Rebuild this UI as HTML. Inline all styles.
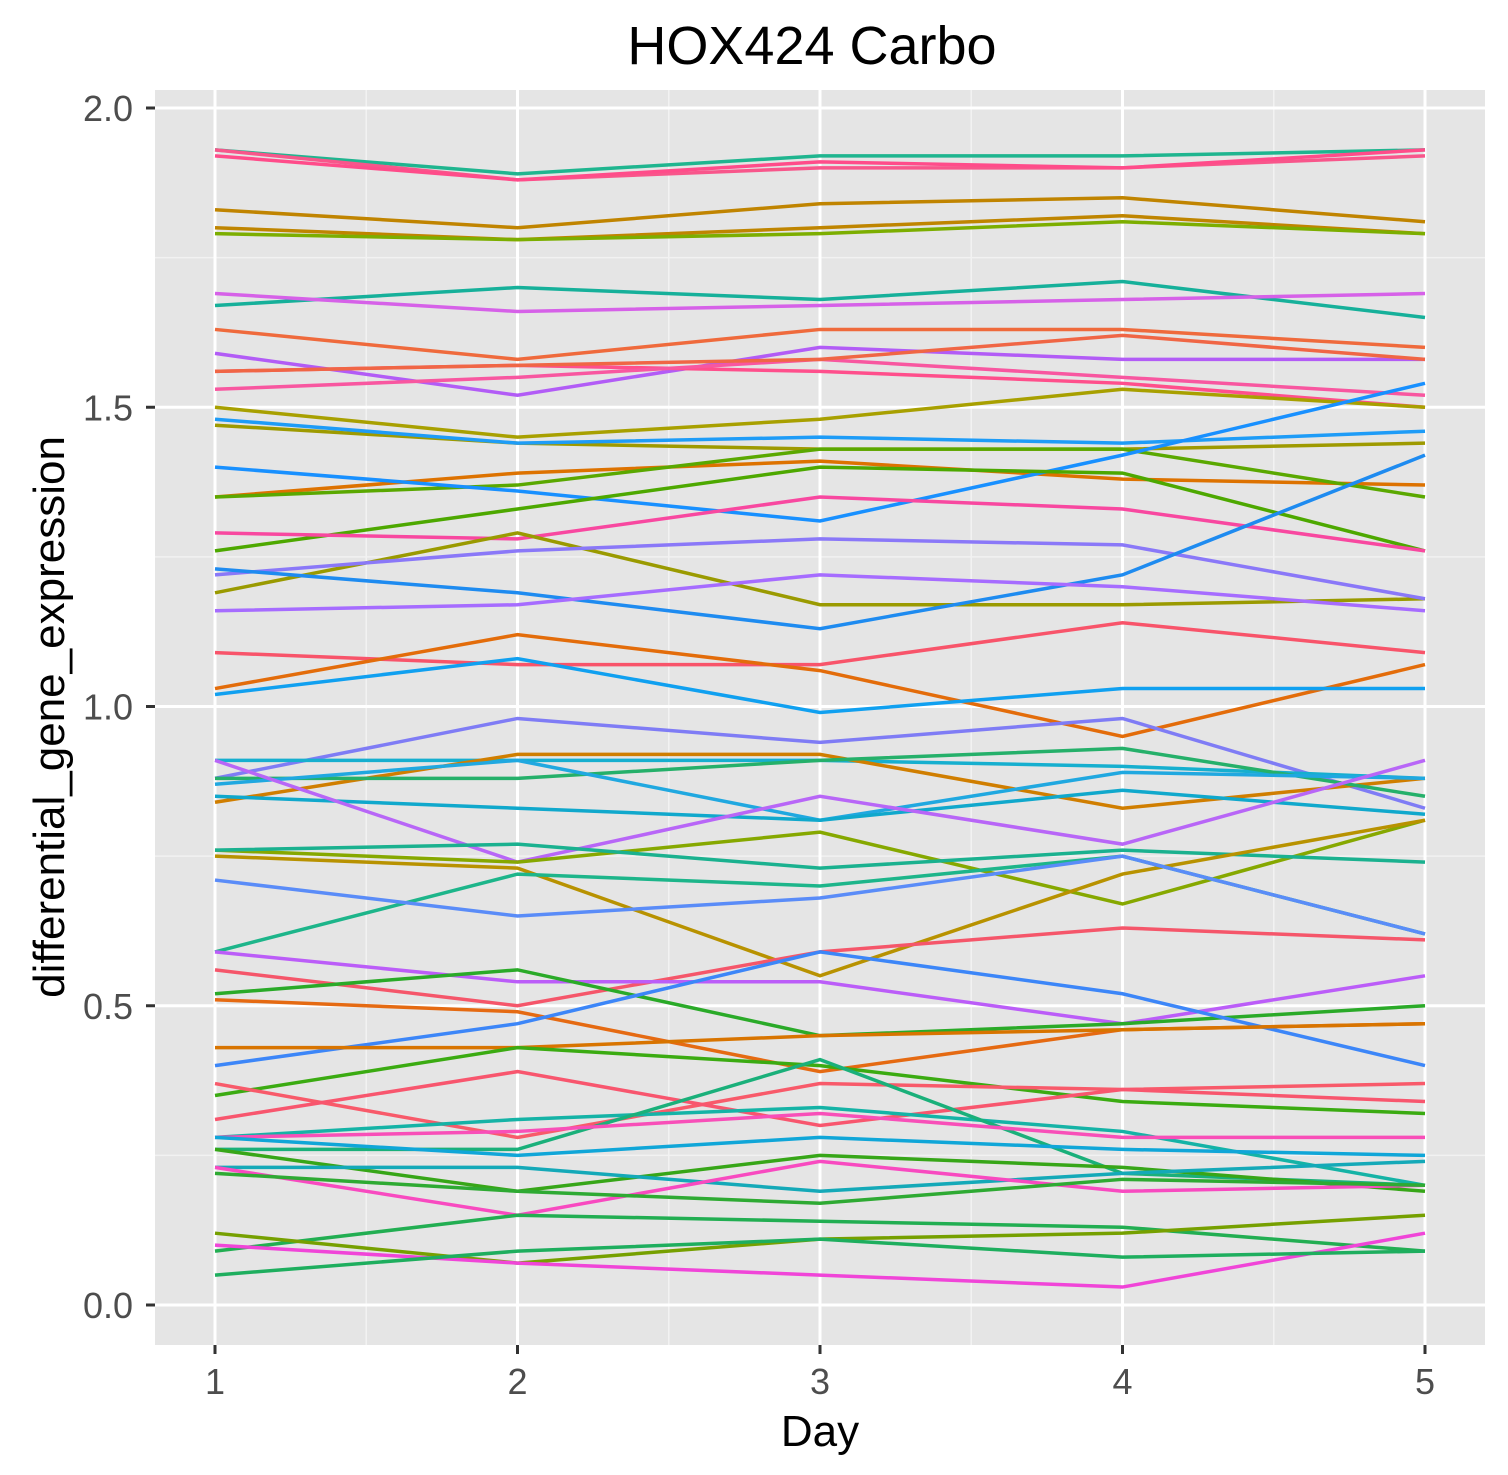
<!DOCTYPE html>
<html><head><meta charset="utf-8"><style>
html,body{margin:0;padding:0;background:#fff;}
svg{display:block;font-family:"Liberation Sans",Arial,sans-serif;}
</style></head><body>
<svg id="chart" width="1508" height="1475">
<rect x="155" y="90" width="1330" height="1255" fill="#E5E5E5"/>
<g id="grid"></g>
<g id="lines"></g>
<g id="axes"></g>
<text x="812" y="64" font-size="54" text-anchor="middle" fill="#000">HOX424 Carbo</text>
<text x="820" y="1446" font-size="44" text-anchor="middle" fill="#000">Day</text>
<text transform="translate(64,717) rotate(-90)" font-size="44" text-anchor="middle" fill="#000">differential_gene_expression</text>
</svg>
<script>
const days=[1,2,3,4,5];
const yTicks=[0,0.5,1,1.5,2];
const yTickLabels=["0.0","0.5","1.0","1.5","2.0"];
const series=[
[1.93,1.89,1.92,1.92,1.93],[1.93,1.88,1.90,1.90,1.92],[1.92,1.88,1.91,1.90,1.93],
[1.83,1.80,1.84,1.85,1.81],[1.80,1.78,1.80,1.82,1.79],[1.79,1.78,1.79,1.81,1.79],
[1.67,1.70,1.68,1.71,1.65],[1.69,1.66,1.67,1.68,1.69],[1.63,1.58,1.63,1.63,1.60],
[1.59,1.52,1.60,1.58,1.58],[1.56,1.57,1.56,1.54,1.50],[1.53,1.55,1.58,1.55,1.52],
[1.56,1.57,1.58,1.62,1.58],[1.50,1.45,1.48,1.53,1.50],[1.47,1.44,1.43,1.43,1.44],
[1.48,1.44,1.45,1.44,1.46],[1.35,1.39,1.41,1.38,1.37],[1.35,1.37,1.43,1.43,1.35],
[1.40,1.36,1.31,1.42,1.54],[1.26,1.33,1.40,1.39,1.26],[1.29,1.28,1.35,1.33,1.26],
[1.19,1.29,1.17,1.17,1.18],[1.22,1.26,1.28,1.27,1.18],[1.23,1.19,1.13,1.22,1.42],
[1.16,1.17,1.22,1.20,1.16],[1.09,1.07,1.07,1.14,1.09],[1.03,1.12,1.06,0.95,1.07],
[1.02,1.08,0.99,1.03,1.03],[0.88,0.98,0.94,0.98,0.83],[0.91,0.91,0.91,0.90,0.88],
[0.84,0.92,0.92,0.83,0.88],[0.88,0.88,0.91,0.93,0.85],[0.87,0.91,0.81,0.89,0.88],
[0.85,0.83,0.81,0.86,0.82],[0.91,0.74,0.85,0.77,0.91],[0.76,0.74,0.79,0.67,0.81],
[0.76,0.77,0.73,0.76,0.74],[0.75,0.73,0.55,0.72,0.81],[0.59,0.72,0.70,0.75,0.62],
[0.71,0.65,0.68,0.75,0.62],[0.56,0.50,0.59,0.63,0.61],[0.59,0.54,0.54,0.47,0.55],
[0.51,0.49,0.39,0.46,0.47],[0.52,0.56,0.45,0.47,0.50],[0.40,0.47,0.59,0.52,0.40],
[0.43,0.43,0.45,0.46,0.47],[0.35,0.43,0.40,0.34,0.32],[0.37,0.28,0.37,0.36,0.37],
[0.31,0.39,0.30,0.36,0.34],[0.28,0.31,0.33,0.29,0.20],[0.26,0.26,0.41,0.22,0.20],
[0.28,0.29,0.32,0.28,0.28],[0.28,0.25,0.28,0.26,0.25],[0.26,0.19,0.25,0.23,0.19],
[0.23,0.23,0.19,0.22,0.24],[0.23,0.15,0.24,0.19,0.20],[0.22,0.19,0.17,0.21,0.20],
[0.09,0.15,0.14,0.13,0.09],[0.12,0.07,0.11,0.12,0.15],[0.10,0.07,0.05,0.03,0.12],
[0.05,0.09,0.11,0.08,0.09]
];
const colors=["#1FB58F","#F8568B","#FF4C8A","#C08400","#BF8500","#7CAE00","#16B09A","#D661E8","#EF6A3C",
"#B25CF6","#FF4F8C","#F857A0","#F06645","#A8A000","#9E9A00","#1E9CF7","#DD7200","#5AA800","#1890FF",
"#4DA800","#F848A0","#9A9A00","#8A78F8","#1E8BF0","#A66CFF","#F8546A","#E36C0A","#10A0F0","#7F7CF5",
"#16AFCF","#D07E00","#25B06A","#20A8E0","#10A8CC","#B866F7","#86A800","#1AB18F","#B89200","#1DB58A",
"#5A8CF8","#F5566A","#BB5DF8","#E56A12","#2AAA28","#3C86F8","#D87400","#3BAB12","#F85A6A","#F8566E",
"#15B3A6","#1AB07A","#F84FB8","#10A6D8","#37A618","#14A9B8","#F84AC0","#2EAA33","#22AE52","#76A000",
"#F045D8","#1EAE5E"];
const NS="http://www.w3.org/2000/svg";
function xS(d){return 215+(d-1)*302.5;}
function yS(v){return 1305-v*598.5;}
const grid=document.getElementById('grid'),lines=document.getElementById('lines'),axes=document.getElementById('axes');
function ln(p,x1,y1,x2,y2,c,w){const l=document.createElementNS(NS,'line');l.setAttribute('x1',x1);l.setAttribute('y1',y1);l.setAttribute('x2',x2);l.setAttribute('y2',y2);l.setAttribute('stroke',c);l.setAttribute('stroke-width',w);p.appendChild(l);return l;}
for(let v=0.25;v<2;v+=0.5){const l=ln(grid,155,yS(v),1485,yS(v),'#F2F2F2',1.5);

}
for(let d=1.5;d<5;d+=1){const l=ln(grid,xS(d),90,xS(d),1345,'#F2F2F2',1.5);

}
yTicks.forEach((v,i)=>{const l=ln(grid,155,yS(v),1485,yS(v),'#FFFFFF',3);


const t=ln(axes,146,yS(v),155,yS(v),'#333',3);


const tx=document.createElementNS(NS,'text');tx.setAttribute('x',133);tx.setAttribute('y',yS(v)+13);tx.setAttribute('text-anchor','end');tx.setAttribute('font-size','36');tx.setAttribute('fill','#4D4D4D');tx.textContent=yTickLabels[i];


axes.appendChild(tx);});
days.forEach(d=>{const l=ln(grid,xS(d),90,xS(d),1345,'#FFFFFF',3);


const t=ln(axes,xS(d),1345,xS(d),1354,'#333',3);


const tx=document.createElementNS(NS,'text');tx.setAttribute('x',xS(d));tx.setAttribute('y',1394);tx.setAttribute('text-anchor','middle');tx.setAttribute('font-size','36');tx.setAttribute('fill','#4D4D4D');tx.textContent=d;


axes.appendChild(tx);});
series.forEach((s,i)=>{const p=document.createElementNS(NS,'polyline');
p.setAttribute('points',s.map((v,j)=>xS(days[j])+','+yS(v)).join(' '));
p.setAttribute('fill','none');p.setAttribute('stroke',colors[i%colors.length]);p.setAttribute('stroke-width','3.5');


lines.appendChild(p);});
</script>
</body></html>
